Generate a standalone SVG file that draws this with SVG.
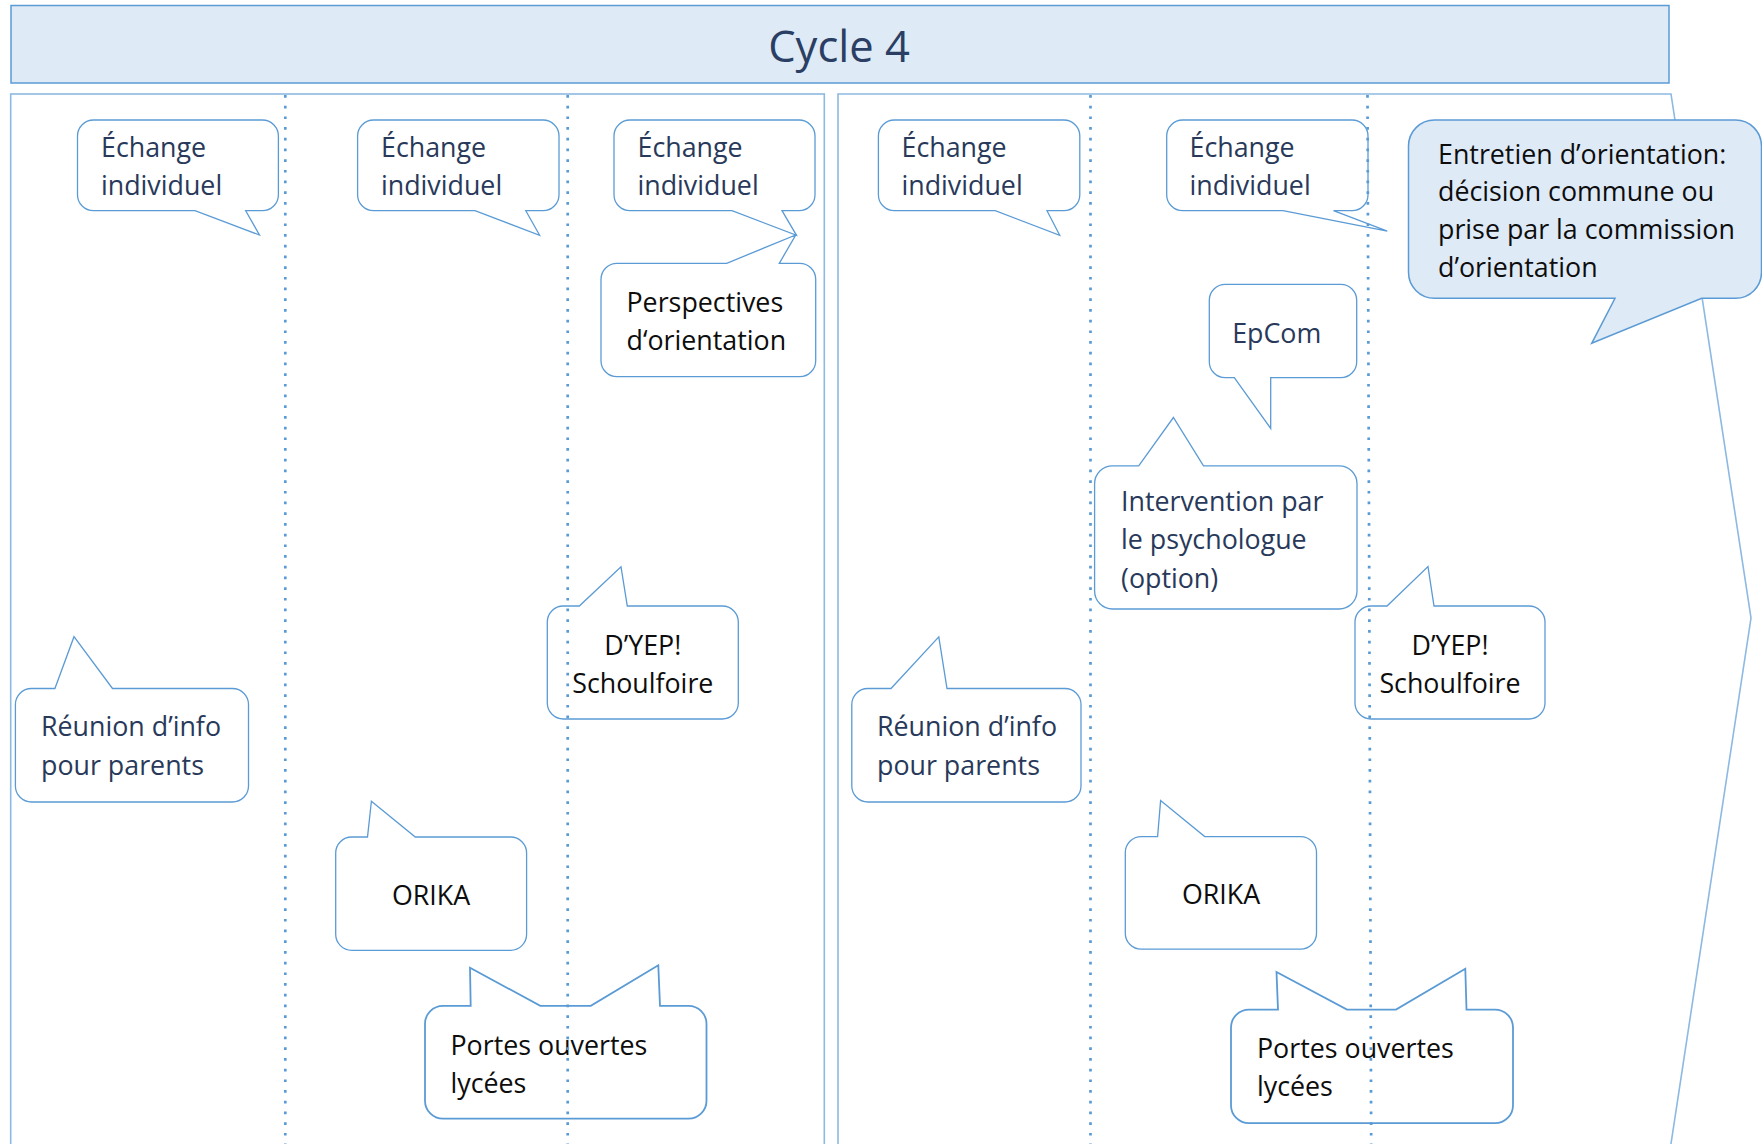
<svg xmlns="http://www.w3.org/2000/svg" width="1762" height="1144" viewBox="0 0 1762 1144">
<style>
  .panel { fill: none; stroke: #8DB9E2; stroke-width: 1.6; }
  .bub { fill: #FFFFFF; stroke: #5B9BD5; stroke-width: 1.3; stroke-linejoin: miter; }
  .bub-hl { fill: #DEEAF6; stroke: #5B9BD5; stroke-width: 1.5; }
  .div { stroke: #5B9BD5; stroke-width: 2.7; stroke-dasharray: 2.7 8; fill: none; }
  text { font-family: "Open Sans", "Liberation Sans", sans-serif; font-size: 26.8px; }
  .navy { fill: #28395A; }
  .blk { fill: #0D0D0D; }
  .mid { text-anchor: middle; }
</style>
<rect width="1762" height="1144" fill="#FFFFFF"/>

<g id="title">
  <rect x="11" y="5.5" width="1658" height="77.5" fill="#DEEAF6" stroke="#5B9BD5" stroke-width="1.5"/>
  <text x="839" y="61.5" class="mid" style="font-size:43.5px" fill="#2A3F63">Cycle 4</text>
</g>

<g id="panels">
  <rect class="panel" x="10.7" y="94" width="813.6" height="1080"/>
  <path class="panel" d="M838,1170 V94 H1671 L1751,618 L1667,1170"/>
</g>

<g id="bubble-echange-1">
  <path class="bub" d="M93.5,120 H262.4 A16,16 0 0 1 278.4,136 V194.7 A16,16 0 0 1 262.4,210.7 H245.7 L259.5,235 L195,210.7 H93.5 A16,16 0 0 1 77.5,194.7 V136 A16,16 0 0 1 93.5,120 Z"/>
  <text class="navy" x="101" y="156.7">Échange</text>
  <text class="navy" x="101" y="195">individuel</text>
</g>

<g id="bubble-echange-2">
  <path class="bub" d="M373.6,120 H543 A16,16 0 0 1 559,136 V194.7 A16,16 0 0 1 543,210.7 H525.8 L539.6,235.3 L475,210.7 H373.6 A16,16 0 0 1 357.6,194.7 V136 A16,16 0 0 1 373.6,120 Z"/>
  <text class="navy" x="381" y="156.7">Échange</text>
  <text class="navy" x="381" y="195">individuel</text>
</g>

<g id="bubble-echange-3">
  <path class="bub" d="M630,120 H799 A16,16 0 0 1 815,136 V194.7 A16,16 0 0 1 799,210.7 H782 L796.5,235.3 L732,210.7 H630 A16,16 0 0 1 614,194.7 V136 A16,16 0 0 1 630,120 Z"/>
  <text class="navy" x="637.5" y="156.7">Échange</text>
  <text class="navy" x="637.5" y="195">individuel</text>
</g>

<g id="bubble-perspectives">
  <path class="bub" d="M617,263.3 H726.7 L795.7,235 L779.3,263.3 H799.7 A16,16 0 0 1 815.7,279.3 V360.7 A16,16 0 0 1 799.7,376.7 H617 A16,16 0 0 1 601,360.7 V279.3 A16,16 0 0 1 617,263.3 Z"/>
  <text class="blk" x="626.5" y="311.7">Perspectives</text>
  <text class="blk" x="626.5" y="350">d‘orientation</text>
</g>

<g id="bubble-dyep-1">
  <path class="bub" d="M563.3,606 H579.3 L621,566.7 L627.3,606 H722.3 A16,16 0 0 1 738.3,622 V703 A16,16 0 0 1 722.3,719 H563.3 A16,16 0 0 1 547.3,703 V622 A16,16 0 0 1 563.3,606 Z"/>
  <text class="blk mid" x="642.8" y="655">D’YEP!</text>
  <text class="blk mid" x="642.8" y="692.7">Schoulfoire</text>
</g>

<g id="bubble-reunion-1">
  <path class="bub" d="M31.4,688.5 H54.9 L74,636.7 L112.5,688.5 H232.5 A16,16 0 0 1 248.5,704.5 V786 A16,16 0 0 1 232.5,802 H31.4 A16,16 0 0 1 15.4,786 V704.5 A16,16 0 0 1 31.4,688.5 Z"/>
  <text class="navy" x="41" y="736">Réunion d’info</text>
  <text class="navy" x="41" y="774.5">pour parents</text>
</g>

<g id="bubble-orika-1">
  <path class="bub" d="M351.7,837 H367.5 L371.4,801.3 L415.3,837 H510.6 A16,16 0 0 1 526.6,853 V934.3 A16,16 0 0 1 510.6,950.3 H351.7 A16,16 0 0 1 335.7,934.3 V853 A16,16 0 0 1 351.7,837 Z"/>
  <text class="blk mid" x="431" y="904.5">ORIKA</text>
</g>

<g id="bubble-portes-1">
  <path class="bub" style="stroke-width:1.8" d="M443,1005.8 H470.7 L470,967.8 L540.3,1005.8 H590.8 L658.3,965.2 L660,1005.8 H688.5 A18,18 0 0 1 706.5,1023.8 V1100.7 A18,18 0 0 1 688.5,1118.7 H443 A18,18 0 0 1 425,1100.7 V1023.8 A18,18 0 0 1 443,1005.8 Z"/>
  <text class="blk" x="450.5" y="1054.5">Portes ouvertes</text>
  <text class="blk" x="450.5" y="1092.7">lycées</text>
</g>

<g id="bubble-echange-4">
  <path class="bub" d="M894.4,120 H1063.8 A16,16 0 0 1 1079.8,136 V194.7 A16,16 0 0 1 1063.8,210.7 H1047 L1059.7,235.3 L995.2,210.7 H894.4 A16,16 0 0 1 878.4,194.7 V136 A16,16 0 0 1 894.4,120 Z"/>
  <text class="navy" x="901.5" y="156.7">Échange</text>
  <text class="navy" x="901.5" y="195">individuel</text>
</g>

<g id="bubble-echange-5">
  <path class="bub" d="M1182.7,120 H1352 A16,16 0 0 1 1368,136 V194.7 A16,16 0 0 1 1352,210.7 H1333.5 L1387.3,231.2 L1283,210.7 H1182.7 A16,16 0 0 1 1166.7,194.7 V136 A16,16 0 0 1 1182.7,120 Z"/>
  <text class="navy" x="1189.5" y="156.7">Échange</text>
  <text class="navy" x="1189.5" y="195">individuel</text>
</g>

<g id="bubble-entretien">
  <path class="bub-hl" d="M1434.5,120 H1735.5 A26,26 0 0 1 1761.5,146 V272.3 A26,26 0 0 1 1735.5,298.3 H1701.7 L1591.7,343.3 L1615,298.3 H1434.5 A26,26 0 0 1 1408.5,272.3 V146 A26,26 0 0 1 1434.5,120 Z"/>
  <text class="blk" x="1438" y="163.5">Entretien d’orientation:</text>
  <text class="blk" x="1438" y="201.3">décision commune ou</text>
  <text class="blk" x="1438" y="239.1">prise par la commission</text>
  <text class="blk" x="1438" y="276.9">d’orientation</text>
</g>

<g id="bubble-epcom">
  <path class="bub" d="M1225.3,284.3 H1340.7 A16,16 0 0 1 1356.7,300.3 V361.7 A16,16 0 0 1 1340.7,377.7 H1270.7 L1270.7,428.5 L1234.3,377.7 H1225.3 A16,16 0 0 1 1209.3,361.7 V300.3 A16,16 0 0 1 1225.3,284.3 Z"/>
  <text class="navy mid" x="1276.7" y="342.7">EpCom</text>
</g>

<g id="bubble-intervention">
  <path class="bub" d="M1112.6,465.8 H1138.7 L1173.4,417.5 L1203.5,465.8 H1339 A18,18 0 0 1 1357,483.8 V591 A18,18 0 0 1 1339,609 H1112.6 A18,18 0 0 1 1094.6,591 V483.8 A18,18 0 0 1 1112.6,465.8 Z"/>
  <text class="navy" x="1121" y="511">Intervention par</text>
  <text class="navy" x="1121" y="549.3">le psychologue</text>
  <text class="navy" x="1121" y="587.6">(option)</text>
</g>

<g id="bubble-dyep-2">
  <path class="bub" d="M1371,606 H1387 L1428,566.6 L1434,606 H1529 A16,16 0 0 1 1545,622 V703 A16,16 0 0 1 1529,719 H1371 A16,16 0 0 1 1355,703 V622 A16,16 0 0 1 1371,606 Z"/>
  <text class="blk mid" x="1450" y="655.3">D’YEP!</text>
  <text class="blk mid" x="1450" y="692.5">Schoulfoire</text>
</g>

<g id="bubble-reunion-2">
  <path class="bub" d="M867.8,688.5 H891 L938.8,636.8 L947,688.5 H1065 A16,16 0 0 1 1081,704.5 V786 A16,16 0 0 1 1065,802 H867.8 A16,16 0 0 1 851.8,786 V704.5 A16,16 0 0 1 867.8,688.5 Z"/>
  <text class="navy" x="877" y="736">Réunion d’info</text>
  <text class="navy" x="877" y="774.5">pour parents</text>
</g>

<g id="bubble-orika-2">
  <path class="bub" d="M1141.3,836.6 H1157.6 L1160.6,800.6 L1204.7,836.6 H1300.5 A16,16 0 0 1 1316.5,852.6 V933.2 A16,16 0 0 1 1300.5,949.2 H1141.3 A16,16 0 0 1 1125.3,933.2 V852.6 A16,16 0 0 1 1141.3,836.6 Z"/>
  <text class="blk mid" x="1221" y="904">ORIKA</text>
</g>

<g id="bubble-portes-2">
  <path class="bub" style="stroke-width:1.8" d="M1249,1009.6 H1278 L1276.5,972 L1347,1009.6 H1396 L1465.3,968.7 L1466.5,1009.6 H1495 A18,18 0 0 1 1513,1027.6 V1105.2 A18,18 0 0 1 1495,1123.2 H1249 A18,18 0 0 1 1231,1105.2 V1027.6 A18,18 0 0 1 1249,1009.6 Z"/>
  <text class="blk" x="1257" y="1057.5">Portes ouvertes</text>
  <text class="blk" x="1257" y="1095.7">lycées</text>
</g>

<g id="connectors">
  <line class="div" x1="285.3" y1="95" x2="285.3" y2="1144"/>
  <line class="div" x1="567.7" y1="95" x2="567.7" y2="1144"/>
  <line class="div" x1="1090.5" y1="95" x2="1090.5" y2="1144"/>
  <line class="div" x1="1367.5" y1="95" x2="1371.2" y2="1144"/>
</g>
</svg>
